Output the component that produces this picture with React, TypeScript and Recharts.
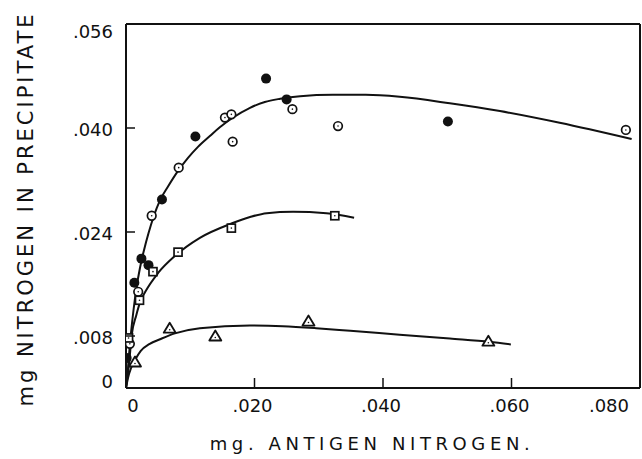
import React from "react";
import {
  ComposedChart,
  Line,
  Scatter,
  XAxis,
  YAxis,
  ReferenceLine,
} from "recharts";

// measured points (mg antigen N, mg N in precipitate)
const solidCircles = [
  { x: 0.0001, y: 0.0046 },
  { x: 0.0013, y: 0.0162 },
  { x: 0.0024, y: 0.0199 },
  { x: 0.0035, y: 0.0189 },
  { x: 0.0056, y: 0.029 },
  { x: 0.0108, y: 0.0387 },
  { x: 0.0218, y: 0.0476 },
  { x: 0.025, y: 0.0444 },
  { x: 0.0501, y: 0.041 },
];

const openCircles = [
  { x: 0.0006, y: 0.0068 },
  { x: 0.0019, y: 0.0148 },
  { x: 0.004, y: 0.0265 },
  { x: 0.0082, y: 0.0339 },
  { x: 0.0154, y: 0.0416 },
  { x: 0.0164, y: 0.0421 },
  { x: 0.0166, y: 0.0379 },
  { x: 0.0259, y: 0.0429 },
  { x: 0.033, y: 0.0403 },
  { x: 0.0778, y: 0.0397 },
];

const squares = [
  { x: 0.0004, y: 0.0077 },
  { x: 0.0021, y: 0.0135 },
  { x: 0.0042, y: 0.0179 },
  { x: 0.0081, y: 0.0209 },
  { x: 0.0164, y: 0.0246 },
  { x: 0.0325, y: 0.0265 },
];

const triangles = [
  { x: 0.0014, y: 0.004 },
  { x: 0.0068, y: 0.0092 },
  { x: 0.0139, y: 0.008 },
  { x: 0.0284, y: 0.0103 },
  { x: 0.0564, y: 0.0072 },
];

// hand drawn fitted curves
const curveTop = [
  { x: 0, y: 0 },
  { x: 0.00023, y: 0.002 },
  { x: 0.00047, y: 0.0051 },
  { x: 0.00078, y: 0.0085 },
  { x: 0.00117, y: 0.012 },
  { x: 0.00163, y: 0.0154 },
  { x: 0.00218, y: 0.0185 },
  { x: 0.0028, y: 0.0212 },
  { x: 0.0035, y: 0.0238 },
  { x: 0.00428, y: 0.0263 },
  { x: 0.0053, y: 0.0289 },
  { x: 0.00654, y: 0.031 },
  { x: 0.0081, y: 0.0334 },
  { x: 0.00965, y: 0.0354 },
  { x: 0.0112, y: 0.0371 },
  { x: 0.0131, y: 0.0388 },
  { x: 0.0146, y: 0.0401 },
  { x: 0.0165, y: 0.0415 },
  { x: 0.0193, y: 0.0431 },
  { x: 0.0216, y: 0.044 },
  { x: 0.024, y: 0.0445 },
  { x: 0.0271, y: 0.0449 },
  { x: 0.0322, y: 0.0451 },
  { x: 0.0373, y: 0.0451 },
  { x: 0.0426, y: 0.0448 },
  { x: 0.0504, y: 0.0438 },
  { x: 0.0582, y: 0.0426 },
  { x: 0.0675, y: 0.0408 },
  { x: 0.0787, y: 0.0383 },
];

const curveMiddle = [
  { x: 0, y: 0 },
  { x: 0.0005, y: 0.004 },
  { x: 0.0009, y: 0.0082 },
  { x: 0.0016, y: 0.0112 },
  { x: 0.0022, y: 0.0132 },
  { x: 0.003, y: 0.0148 },
  { x: 0.005, y: 0.0177 },
  { x: 0.0076, y: 0.0203 },
  { x: 0.0115, y: 0.0231 },
  { x: 0.0164, y: 0.0253 },
  { x: 0.0193, y: 0.0263 },
  { x: 0.0219, y: 0.0269 },
  { x: 0.026, y: 0.0271 },
  { x: 0.0312, y: 0.0269 },
  { x: 0.0355, y: 0.0262 },
];

const curveBottom = [
  { x: 0, y: 0 },
  { x: 0.0003, y: 0.0015 },
  { x: 0.0008, y: 0.0031 },
  { x: 0.0014, y: 0.0043 },
  { x: 0.0023, y: 0.0057 },
  { x: 0.0037, y: 0.0068 },
  { x: 0.0053, y: 0.0075 },
  { x: 0.0076, y: 0.0084 },
  { x: 0.0115, y: 0.0092 },
  { x: 0.0193, y: 0.0096 },
  { x: 0.0244, y: 0.0095 },
  { x: 0.0296, y: 0.0092 },
  { x: 0.0349, y: 0.0088 },
  { x: 0.0426, y: 0.0082 },
  { x: 0.0504, y: 0.0076 },
  { x: 0.0566, y: 0.0071 },
  { x: 0.0599, y: 0.0067 },
];

const xTicks = [0, 0.02, 0.04, 0.06, 0.08];
const yTicks = [0, 0.008, 0.024, 0.04, 0.056];

const font = "DejaVu Sans";
const ink = "#111";

const fmt = (v: number) =>
  v === 0 ? "0" : "." + String(Math.round(v * 1000)).padStart(3, "0");

const XTick = (props: any) => {
  const { x, y, payload, index } = props;
  const axisY = y - 18;
  const last = index === xTicks.length - 1;
  const inner = index > 0 && !last;
  return (
    <g>
      {inner && (
        <line x1={x} y1={axisY} x2={x} y2={axisY - 10} stroke={ink} strokeWidth={1.5} />
      )}
      <text
        x={index === 0 ? x + 7 : last ? x + 1 : x - 2}
        y={y}
        dy="0.35em"
        textAnchor={last ? "end" : "middle"}
        fontFamily={font}
        fontSize={18}
        fill={ink}
      >
        {fmt(payload.value)}
      </text>
    </g>
  );
};

const YTick = (props: any) => {
  const { x, y, payload, index } = props;
  const axisX = x + 13;
  const last = index === yTicks.length - 1;
  const inner = index > 0 && !last;
  return (
    <g>
      {inner && (
        <line x1={axisX} y1={y} x2={axisX + 9} y2={y} stroke={ink} strokeWidth={1.5} />
      )}
      <text
        x={x}
        y={index === 0 ? y - 6 : last ? y + 8 : y + 2}
        dy="0.35em"
        textAnchor="end"
        fontFamily={font}
        fontSize={18}
        fill={ink}
      >
        {fmt(payload.value)}
      </text>
    </g>
  );
};

const SolidDot = (p: any) => <circle cx={p.cx} cy={p.cy} r={5} fill={ink} />;

const OpenDot = (p: any) => (
  <g>
    <circle cx={p.cx} cy={p.cy} r={4.3} fill="#fff" stroke={ink} strokeWidth={1.7} />
    <circle cx={p.cx} cy={p.cy} r={0.8} fill={ink} />
  </g>
);

const SquareDot = (p: any) => (
  <g>
    <rect x={p.cx - 4} y={p.cy - 4} width={8} height={8} fill="#fff" stroke={ink} strokeWidth={1.7} />
    <circle cx={p.cx} cy={p.cy} r={0.8} fill={ink} />
  </g>
);

const TriangleDot = (p: any) => (
  <g>
    <polygon
      points={`${p.cx},${p.cy - 5.5} ${p.cx - 6},${p.cy + 4.5} ${p.cx + 6},${p.cy + 4.5}`}
      fill="#fff"
      stroke={ink}
      strokeWidth={1.8}
      strokeLinejoin="round"
    />
    <circle cx={p.cx} cy={p.cy + 1.5} r={0.8} fill={ink} />
  </g>
);

export default function App() {
  return (
    <div style={{ position: "absolute", left: 0, top: 0, background: "#fff" }}>
      <ComposedChart
        width={642}
        height={459}
        margin={{ top: 24, right: 2, left: 0, bottom: 0 }}
      >
        <XAxis
          type="number"
          dataKey="x"
          domain={[0, 0.08]}
          ticks={xTicks}
          allowDataOverflow
          height={71}
          tickSize={0}
          tickMargin={18}
          tickLine={false}
          tick={<XTick />}
          axisLine={{ stroke: ink, strokeWidth: 2 }}
          label={{
            content: () => (
              <text
                x={372}
                y={450}
                textAnchor="middle"
                fontFamily={font}
                fontSize={18}
                letterSpacing={4.6}
                fill={ink}
              >
                mg. ANTIGEN NITROGEN.
              </text>
            ),
          }}
        />
        <YAxis
          type="number"
          dataKey="y"
          domain={[0, 0.056]}
          ticks={yTicks}
          allowDataOverflow
          width={126}
          tickSize={0}
          tickMargin={13}
          tickLine={false}
          tick={<YTick />}
          axisLine={{ stroke: ink, strokeWidth: 2 }}
          label={{
            content: () => (
              <text
                x={33}
                y={209}
                transform="rotate(-90 33 209)"
                textAnchor="middle"
                fontFamily={font}
                fontSize={21}
                letterSpacing={3}
                fill={ink}
              >
                mg NITROGEN IN PRECIPITATE
              </text>
            ),
          }}
        />
        <ReferenceLine y={0.056} stroke={ink} strokeWidth={2} />
        <ReferenceLine x={0.08} stroke={ink} strokeWidth={2} />
        <Line
          data={curveTop}
          dataKey="y"
          type="monotone"
          stroke={ink}
          strokeWidth={2}
          dot={false}
          activeDot={false}
          isAnimationActive={false}
        />
        <Line
          data={curveMiddle}
          dataKey="y"
          type="monotone"
          stroke={ink}
          strokeWidth={2}
          dot={false}
          activeDot={false}
          isAnimationActive={false}
        />
        <Line
          data={curveBottom}
          dataKey="y"
          type="monotone"
          stroke={ink}
          strokeWidth={2}
          dot={false}
          activeDot={false}
          isAnimationActive={false}
        />
        <Scatter data={solidCircles} dataKey="y" shape={SolidDot} isAnimationActive={false} />
        <Scatter data={openCircles} dataKey="y" shape={OpenDot} isAnimationActive={false} />
        <Scatter data={squares} dataKey="y" shape={SquareDot} isAnimationActive={false} />
        <Scatter data={triangles} dataKey="y" shape={TriangleDot} isAnimationActive={false} />
      </ComposedChart>
    </div>
  );
}
